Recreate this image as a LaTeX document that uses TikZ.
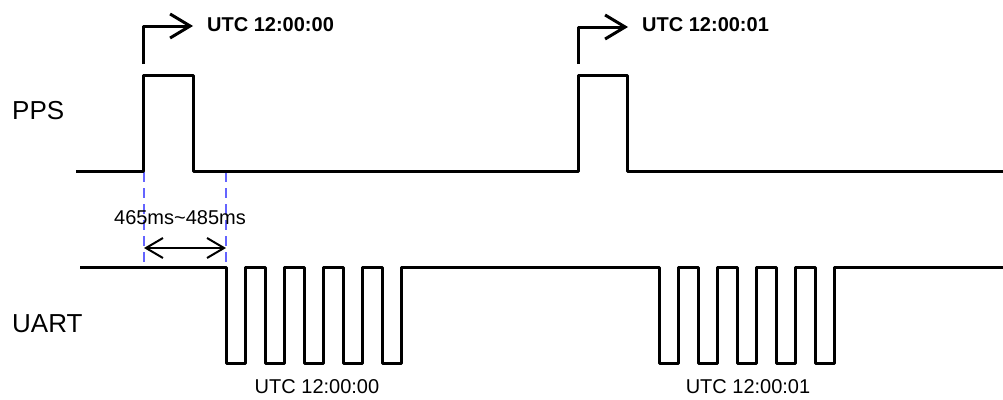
\documentclass[tikz,border=0pt]{standalone}
\usepackage{fontspec}
\setmainfont{Liberation Sans}
\usetikzlibrary{arrows.meta}

\definecolor{markblue}{RGB}{100,100,255}

\begin{document}
\begin{tikzpicture}[x=1pt,y=-1pt,>={Straight Barb[length=20pt,width=24pt]},
    wave/.style={line width=3pt,line join=round},
    marker/.style={draw=markblue,line width=1.5pt,dash pattern=on 10pt off 6pt},
    sig/.style={font=\fontsize{26}{28}\selectfont,anchor=west,inner sep=0pt},
    stamp/.style={font=\fontsize{20}{22}\selectfont,inner sep=0pt}]
    \useasboundingbox (0,0) rectangle (1003,399);

    % delay marks
    \draw[marker] (144,172) -- (144,262);
    \draw[marker] (226,172) -- (226,262);

    % signal names
    \node[sig] (pps) at (12,111) {PPS};
    \node[sig] (uart) at (12,324) {UART};

    % PPS line
    \draw[wave] (76,171) -- (143,171) -- (143,75) -- (193,75) -- (193,171)
        -- (578,171) -- (578,75) -- (627,75) -- (627,171) -- (1003,171);

    % second marks
    \draw[wave,->] (143,64) -- (143,26) -- (193,26);
    \draw[wave,->] (578,64) -- (578,27) -- (628,27);
    \node[stamp,anchor=west,font=\fontsize{20}{22}\selectfont\bfseries] (t0) at (207,25) {UTC 12:00:00};
    \node[stamp,anchor=west,font=\fontsize{20}{22}\selectfont\bfseries] (t1) at (642,25) {UTC 12:00:01};

    % delay between PPS and UART
    \coordinate (m0) at (144,248);
    \coordinate (m1) at (226,248);
    \draw[line width=2pt,<->,>={Straight Barb[length=17pt,width=20pt]}] (m0) -- (m1);
    \node[stamp] (delay) at (180,218) {465ms\char`~485ms};

    % UART line
    \draw[wave] (80,267)
        \foreach \s in {226,659} {
            -- (\s,267)
            \foreach \k in {1,...,5} { -- ++(0,96) -- ++(19.5,0) -- ++(0,-96) -- ++(19.5,0) }
        } -- (1003,267);
    \node[stamp] (u0) at (317,387) {UTC 12:00:00};
    \node[stamp] (u1) at (748,387) {UTC 12:00:01};
\end{tikzpicture}
\end{document}
